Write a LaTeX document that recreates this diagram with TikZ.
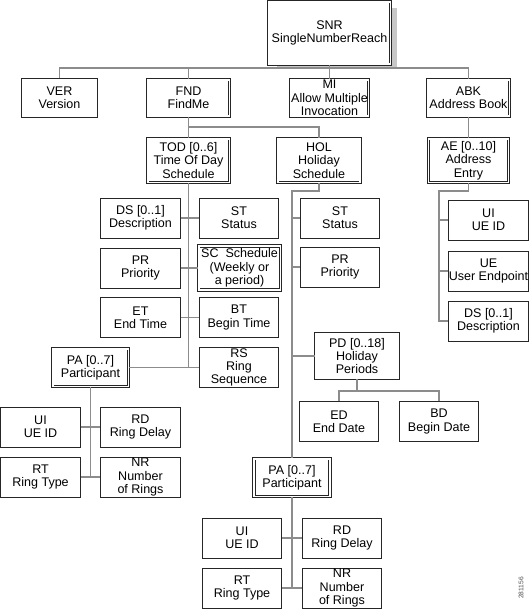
\documentclass[tikz,border=0pt]{standalone}
\usepackage{fontspec}
\setmainfont{Liberation Sans}
\usetikzlibrary{positioning}
\tikzset{
leaf/.style={draw=black!85,line width=0.6pt,fill=white,inner sep=0pt,align=center,minimum width=59.5pt,minimum height=30pt,font=\fontsize{9.4}{10}\selectfont},
group/.style={leaf,double=white,double distance=1.3pt,minimum width=61.3pt,minimum height=32.8pt},
link/.style={draw=black!45,line width=0.8pt}
}

\begin{document}
\begin{tikzpicture}[x=0.75pt,y=-0.75pt]
\useasboundingbox (0,0) rectangle (529,610);
\fill[black!22](277,8)rectangle(397,69);
\node[group,minimum width=91.3pt,minimum height=47pt] (snr) at (329.5,33) {SNR\\SingleNumberReach};
\node[leaf,minimum width=57pt,minimum height=29.4pt] (ver) at (59.5,98) {VER\\Version};
\node[group,minimum height=27.5pt] (fnd) at (188.5,98) {FND\\FindMe};
\node[group,minimum width=58.3pt,minimum height=27.5pt] (mi) at (329.5,98) {MI\\Allow Multiple\\Invocation};
\node[group,minimum height=27.5pt] (abk) at (468.5,98) {ABK\\Address Book};
\node[group] (tod) at (188.5,160.5) {TOD [0..6]\\Time Of Day\\Schedule};
\node[group,minimum width=62pt] (hol) at (319,160.5) {HOL\\Holiday\\Schedule};
\node[group,minimum width=60pt] (ae) at (468.5,160.5) {AE [0..10]\\Address\\Entry};
\node[leaf] (ds) at (140.5,218) {DS [0..1]\\Description};
\node[leaf] (st) at (239,218) {ST\\Status};
\node[leaf] (st2) at (340,218) {ST\\Status};
\node[leaf] (uiae) at (488.5,220) {UI\\UE ID};
\node[leaf] (pr) at (140.5,268) {PR\\Priority};
\node[group] (sc) at (239.5,268) {SC\ \ Schedule\\(Weekly or\\a period)};
\node[leaf] (pr2) at (340,267) {PR\\Priority};
\node[leaf] (ue) at (488.5,271) {UE\\User Endpoint};
\node[leaf] (et) at (140.5,317.5) {ET\\End Time};
\node[leaf] (bt) at (239,317.5) {BT\\Begin Time};
\node[leaf] (ds2) at (488.5,321) {DS [0..1]\\Description};
\node[group,minimum width=62pt,minimum height=33.5pt] (pd) at (357,356) {PD [0..18]\\Holiday\\Periods};
\node[group,minimum width=56.8pt,minimum height=28.3pt] (pa) at (90.5,367.5) {PA [0..7]\\Participant};
\node[leaf] (rs) at (239,367.5) {RS\\Ring\\Sequence};
\node[leaf] (ui) at (40.5,427) {UI\\UE ID};
\node[leaf] (rd) at (140.5,427) {RD\\Ring Delay};
\node[leaf] (ed) at (339,421.5) {ED\\End Date};
\node[leaf] (bd) at (439,421.5) {BD\\Begin Date};
\node[leaf] (rt) at (40.5,477) {RT\\Ring Type};
\node[leaf] (nr) at (140.5,477) {NR\\Number\\of Rings};
\node[group,minimum width=56.8pt,minimum height=28.3pt] (pa2) at (292,477.5) {PA [0..7]\\Participant};
\node[leaf] (ui3) at (242,538) {UI\\UE ID};
\node[leaf] (rd3) at (342,538) {RD\\Ring Delay};
\node[leaf] (rt3) at (242,588) {RT\\Ring Type};
\node[leaf] (nr3) at (342,588) {NR\\Number\\of Rings};
\node[rotate=90,font=\fontsize{5}{6}\selectfont,text=black!70] (fignum) at (521,588) {281156};
\coordinate (topbus) at (0,68);
\coordinate (fndbus) at (0,127);
\coordinate (holbend) at (292,191);
\coordinate (aebend) at (439,191);
\coordinate (pdbus) at (0,391);
\draw[link](snr.south)--(mi.north);
\draw[link](ver.north)--(ver.north|-topbus)-|(abk.north);
\draw[link](fnd.north)--(fnd.north|-topbus);
\draw[link](fnd.south)--(tod.north);
\draw[link](fnd.south|-fndbus)-|(hol.north);
\draw[link](abk.south)--(abk.south|-ae.north);
\draw[link](tod.south)--(tod.south|-pa.east);
\draw[link](ds.east)--(st.west);
\draw[link](pr.east)--(sc.west);
\draw[link](et.east)--(bt.west);
\draw[link](pa.east)--(rs.west);
\draw[link](pa.south)--(pa.south|-rt.east);
\draw[link](ui.east)--(rd.west);
\draw[link](rt.east)--(nr.west);
\draw[link](hol.south)|-(holbend)--(holbend|-pa2.north);
\draw[link](st2.west)--(st2.west-|holbend);
\draw[link](pr2.west)--(pr2.west-|holbend);
\draw[link](pd.west)--(pd.west-|holbend);
\draw[link](pd.south)--(pd.south|-pdbus);
\draw[link](ed.north)--(ed.north|-pdbus)--(bd.north|-pdbus)--(bd.north);
\draw[link](pa2.south)--(pa2.south|-rt3.east);
\draw[link](ui3.east)--(rd3.west);
\draw[link](rt3.east)--(nr3.west);
\draw[link](ae.south)|-(aebend)|-(ds2.west);
\draw[link](uiae.west)--(uiae.west-|aebend);
\draw[link](ue.west)--(ue.west-|aebend);
\end{tikzpicture}
\end{document}
